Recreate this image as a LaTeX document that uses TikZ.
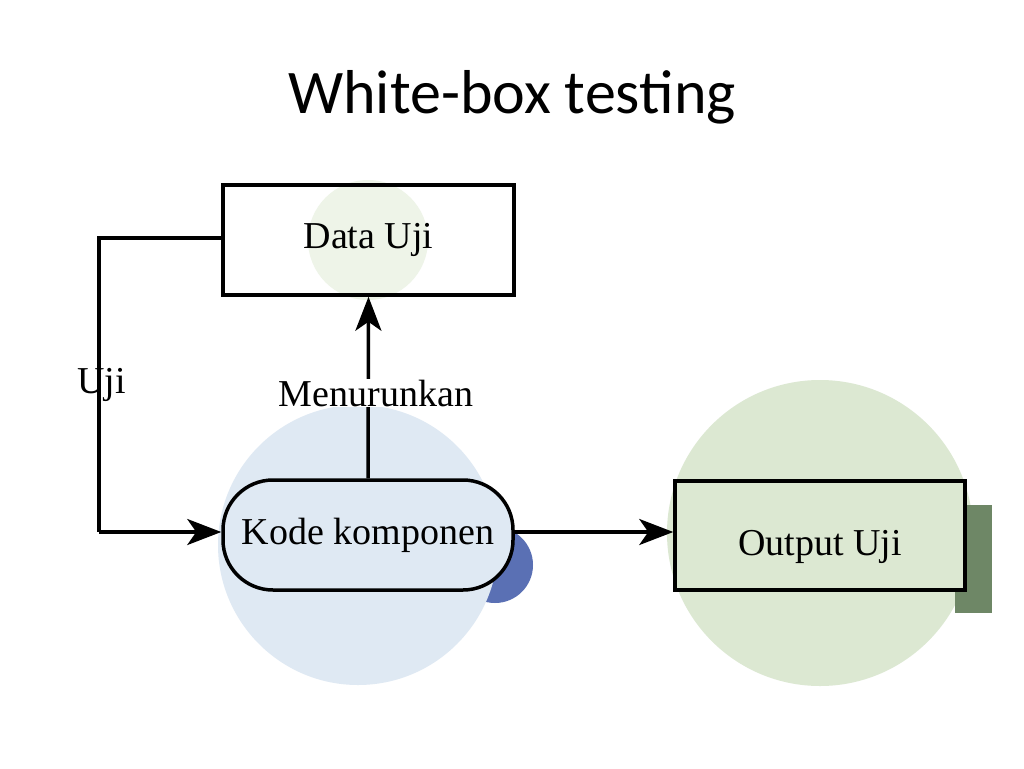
\documentclass[tikz,border=0pt]{standalone}
\usepackage{fontspec}
\setmainfont{Liberation Serif}
\newfontfamily\titlefont{Carlito}
\usetikzlibrary{arrows.meta}
\definecolor{lblue}{HTML}{DFE9F3}
\definecolor{dblue}{HTML}{5A70B4}
\definecolor{lgreen}{HTML}{DCE8D2}
\definecolor{pgreen}{HTML}{EEF4E8}
\definecolor{dgreen}{HTML}{6E8766}
\begin{document}
\begin{tikzpicture}[x=1pt,y=-1pt,
  line/.style={line width=3.5pt},
  arr/.style={line width=3.5pt,-{Stealth[length=34pt,width=26pt,inset=9pt]}},
  lbl/.style={font=\fontsize{38}{42}\selectfont}]
\useasboundingbox (0,0) rectangle (1024,768);
\fill[white] (0,0) rectangle (1024,768);
\node[font=\titlefont\fontsize{62}{68}\selectfont] (title) at (512,97) {White-box testing};
% backgrounds
\fill[pgreen] (368,240) circle (60);
\fill[dblue] (495,565) circle (38);
\fill[lblue] (358,545) circle (140);
\fill[lgreen] (820,533) circle (153);
\fill[dgreen] (955,505) rectangle (992,613);
% nodes
\node[draw,line width=3.5pt,minimum width=291pt,minimum height=110pt,lbl] (data) at (368.5,240) {Data Uji};
\node[draw,line width=3.5pt,rounded corners=50pt,minimum width=290pt,minimum height=110pt,fill=lblue,lbl] (kode) at (368,535) {Kode komponen};
\node[draw,line width=3.5pt,minimum width=290pt,minimum height=109pt,fill=lgreen,lbl] (out) at (820,535.5) {};
\node[lbl] (outt) at (820,547) {Output Uji};
\coordinate (c1) at (99,238);
\coordinate (c2) at (99,532);
% connectors
\draw[line] (data.west |- c1) -- (c1) -- (c2);
\draw[arr] (c2) -- (kode.west |- c2);
\draw[arr] (kode.north) -- (data.south);
\draw[arr] (kode.east |- c2) -- (out.west |- c2);
\node[lbl,anchor=west] (uji) at (74,385) {Uji};
\node[lbl,fill=white,inner sep=1pt] (men) at (376,393) {Menurunkan};
\end{tikzpicture}
\end{document}
